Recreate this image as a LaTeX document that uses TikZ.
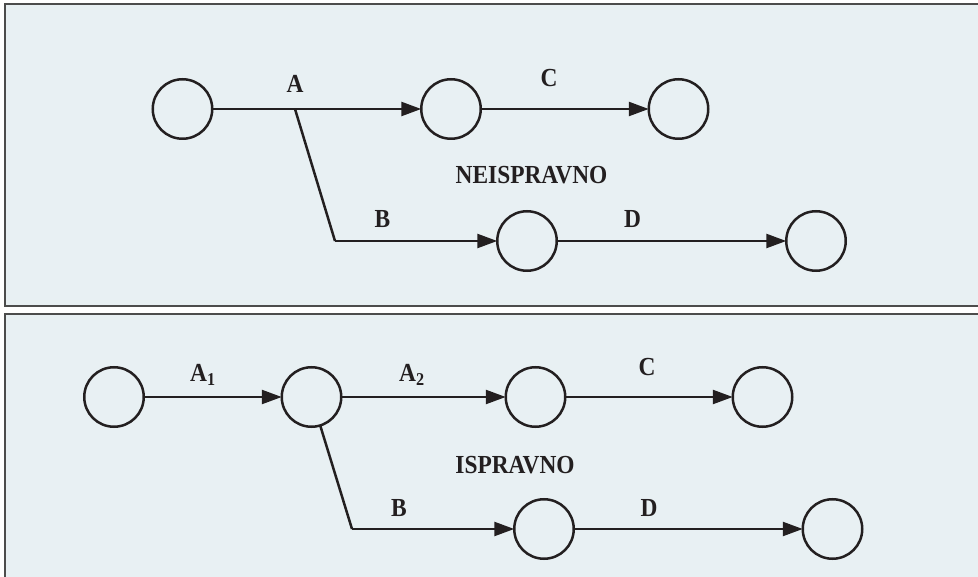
\documentclass[tikz,border=0pt]{standalone}
\usepackage{fontspec}
\setmainfont{Liberation Serif}[FakeStretch=0.9]
\usetikzlibrary{arrows.meta}
\definecolor{panelfill}{HTML}{E8F0F3}
\definecolor{ink}{HTML}{231F20}
\begin{document}
\begin{tikzpicture}[x=1pt,y=-1pt,
  panel/.style={draw=black!70,line width=1.3pt,fill=panelfill},
  evt/.style={circle,draw=ink,line width=2.5pt,minimum size=59.5pt,inner sep=0pt,outer sep=0pt},
  conn/.style={draw=ink,line width=2.5pt,-{Triangle[length=20pt,width=14pt]}},
  seg/.style={draw=ink,line width=2.5pt},
  lbl/.style={text=ink,font=\fontsize{26}{28}\selectfont\bfseries,inner sep=0pt,anchor=base}]
\useasboundingbox (0,0) rectangle (978,577);
\path[panel] (5,4) rectangle (990,306);
\path[panel] (5,314) rectangle (990,590);
% top: incorrect
\node[evt] (n1) at (182.5,109) {};
\node[evt] (n2) at (451,109) {};
\node[evt] (n3) at (678.5,109) {};
\node[evt] (n4) at (527,241) {};
\node[evt] (n5) at (816,241) {};
\coordinate (b1) at (295,109);
\coordinate (b2) at (335,241);
\draw[conn] (n1) -- (n2);
\draw[conn] (n2) -- (n3);
\draw[seg] (b1) -- (b2);
\draw[conn] (b2) -- (n4);
\draw[conn] (n4) -- (n5);
\node[lbl] (la) at (295,93) {A};
\node[lbl] (lb) at (382.5,228) {B};
\node[lbl] (lc) at (549,87) {C};
\node[lbl] (ld) at (632.5,228) {D};
\node[lbl] (lne) at (531.5,184) {NEISPRAVNO};
% bottom: correct
\node[evt] (m1) at (114,397) {};
\node[evt] (m2) at (311.5,397) {};
\node[evt] (m3) at (535.5,397) {};
\node[evt] (m4) at (762.5,397) {};
\node[evt] (m5) at (544,529) {};
\node[evt] (m6) at (832.5,529) {};
\coordinate (c2) at (352,529);
\draw[conn] (m1) -- (m2);
\draw[conn] (m2) -- (m3);
\draw[conn] (m3) -- (m4);
\draw[seg] (m2.-73) -- (c2);
\draw[conn] (c2) -- (m5);
\draw[conn] (m5) -- (m6);
\node[lbl,anchor=base west] (la1) at (190,382) {A\raisebox{-4pt}{\fontsize{18}{18}\selectfont 1}};
\node[lbl,anchor=base west] (la2) at (399,382) {A\raisebox{-4pt}{\fontsize{18}{18}\selectfont 2}};
\node[lbl] (lc2) at (647,376) {C};
\node[lbl] (lb2) at (399,516) {B};
\node[lbl] (ld2) at (649,516) {D};
\node[lbl] (lis) at (515,473) {ISPRAVNO};
\end{tikzpicture}
\end{document}
